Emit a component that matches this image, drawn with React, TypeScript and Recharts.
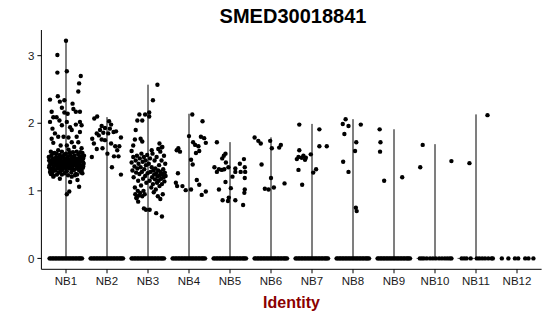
import { ScatterChart, Scatter, XAxis, YAxis } from 'recharts';

const groups = ['NB1', 'NB2', 'NB3', 'NB4', 'NB5', 'NB6', 'NB7', 'NB8', 'NB9', 'NB10', 'NB11', 'NB12'];
const yTicks = [0, 1, 2, 3];

// top of each violin (max expression in the group)
const violinMax = [3.23, 2.09, 2.57, 2.14, 1.72, 1.79, 1.99, 2.06, 1.91, 1.69, 2.13, 0];

// jitter offsets of the cells at zero
const denseZero = [-0.4, -0.37, -0.33, -0.3, -0.26, -0.23, -0.19, -0.16, -0.12, -0.09, -0.05, -0.02, 0.02, 0.05, 0.09, 0.12, 0.16, 0.19, 0.23, 0.26, 0.3, 0.33, 0.36, 0.39];
const nb10Zero = [-0.37, -0.32, -0.27, -0.2, -0.12, -0.05, 0.02, 0.1, 0.17, 0.24, 0.3, 0.36, 0.4];
const nb11Zero = [-0.35, -0.29, -0.23, -0.13, 0.02, 0.08, 0.15, 0.22, 0.3, 0.38, 0.41];
const nb12Zero = [-0.37, -0.21, -0.05, 0.03, 0.2, 0.28, 0.4];

// non-zero cells: [jitter offset, expression]
const nb1: [number, number][] = [
  [0, 3.22], [-0.21, 3.01], [-0.21, 2.75], [0.02, 2.77], [0.36, 2.7], [0.32, 2.59], [0.3, 2.47],
  [-0.39, 2.35], [-0.2, 2.4], [-0.15, 2.32], [-0.04, 2.34], [0.16, 2.29], [-0.35, 2.17], [-0.31, 2.09],
  [-0.39, 2.02], [-0.23, 2.09], [-0.1, 2.23], [-0.04, 2.16], [0.04, 2.14], [0.18, 2.21], [0.24, 2.17],
  [0.34, 2.17], [-0.16, 2.04], [-0.1, 1.97], [0.02, 2.02], [0.1, 1.94], [0.14, 1.9], [0.34, 2.02],
  [0.38, 1.97], [0.24, 1.98], [-0.33, 1.92], [-0.27, 1.85], [0.34, 1.87], [-0.19, 1.8], [-0.06, 1.8],
  [0.06, 1.79], [0.26, 1.8], [-0.35, 1.77], [-0.31, 1.71], [0.14, 1.72], [0.3, 1.72], [-0.13, 1.67],
  [0.02, 1.67], [0.2, 1.65], [0.38, 1.63],
  [-0.41, 1.45], [-0.38, 1.32], [-0.36, 1.52], [-0.35, 1.4], [-0.33, 1.27], [-0.31, 1.48], [-0.3, 1.36],
  [-0.28, 1.56], [-0.27, 1.43], [-0.26, 1.3], [-0.24, 1.5], [-0.23, 1.38], [-0.22, 1.24], [-0.2, 1.46],
  [-0.19, 1.6], [-0.18, 1.34], [-0.17, 1.41], [-0.15, 1.53], [-0.14, 1.29], [-0.13, 1.47], [-0.12, 1.37],
  [-0.1, 1.58], [-0.09, 1.44], [-0.08, 1.31], [-0.07, 1.51], [-0.05, 1.39], [-0.04, 1.26], [-0.03, 1.48],
  [-0.02, 1.35], [0, 1.55], [0.01, 1.42], [0.02, 1.29], [0.04, 1.5], [0.05, 1.37], [0.06, 1.61],
  [0.08, 1.45], [0.09, 1.33], [0.1, 1.53], [0.12, 1.4], [0.13, 1.27], [0.14, 1.49], [0.16, 1.36],
  [0.17, 1.57], [0.18, 1.44], [0.2, 1.31], [0.21, 1.52], [0.22, 1.39], [0.24, 1.25], [0.25, 1.47],
  [0.26, 1.58], [0.28, 1.35], [0.29, 1.43], [0.3, 1.54], [0.32, 1.3], [0.33, 1.46], [0.34, 1.38],
  [0.36, 1.51], [0.37, 1.27], [0.38, 1.44], [0.4, 1.56], [0.41, 1.34], [0.42, 1.48], [0.43, 1.4],
  [-0.4, 1.38], [-0.37, 1.58], [-0.34, 1.46], [-0.32, 1.34], [-0.29, 1.42], [-0.25, 1.47], [-0.21, 1.33],
  [-0.16, 1.45], [-0.11, 1.5], [-0.06, 1.43], [-0.01, 1.46], [0.03, 1.4], [0.07, 1.47], [0.11, 1.35],
  [0.15, 1.42], [0.19, 1.51], [0.23, 1.45], [0.27, 1.41], [0.31, 1.48], [0.35, 1.44], [0.39, 1.37],
  [0.44, 1.52], [-0.42, 1.5], [-0.39, 1.28], [-0.33, 1.55], [-0.27, 1.37], [-0.23, 1.55], [-0.18, 1.27],
  [-0.14, 1.39], [-0.09, 1.36], [-0.04, 1.54], [0, 1.33], [0.05, 1.44], [0.09, 1.57], [0.13, 1.46],
  [0.17, 1.32], [0.21, 1.43], [0.26, 1.33], [0.3, 1.39], [0.35, 1.57], [0.38, 1.3], [0.42, 1.42],
  [-0.41, 1.35], [-0.38, 1.42], [-0.35, 1.31], [-0.32, 1.43], [-0.29, 1.31], [-0.26, 1.4], [-0.22, 1.43],
  [-0.2, 1.36], [-0.17, 1.49], [-0.13, 1.33], [-0.11, 1.42], [-0.07, 1.39], [-0.03, 1.41], [0.02, 1.36],
  [0.04, 1.46], [0.07, 1.39], [0.11, 1.45], [0.15, 1.31], [0.18, 1.38], [0.22, 1.48], [0.25, 1.37],
  [0.28, 1.46], [0.32, 1.41], [0.36, 1.34], [0.39, 1.46], [0.42, 1.36], [-0.36, 1.44], [0.33, 1.5],
  [-0.3, 1.22], [-0.1, 1.24], [0.05, 1.23], [0.27, 1.24], [0.4, 1.26], [-0.37, 1.25],
  [0.14, 1.21], [-0.15, 1.18], [0.1, 1.13], [0.32, 1.06], [0.08, 0.99], [0.02, 0.95], [0.28, 1.16],
  [-0.31, 1.21], [0.22, 1.23],
];
const nb2: [number, number][] = [
  [-0.24, 2.1], [-0.31, 2.07], [0.05, 2.03], [0.1, 1.98], [-0.13, 1.96], [-0.05, 1.93], [-0.17, 1.9],
  [0.07, 1.92], [-0.25, 1.85], [-0.09, 1.86], [0.03, 1.85], [0.16, 1.87], [-0.36, 1.77], [-0.13, 1.76],
  [0.34, 1.79], [-0.32, 1.7], [0.1, 1.7], [0.2, 1.66], [0.3, 1.66], [-0.25, 1.62], [-0.11, 1.63],
  [0.01, 1.55], [0.17, 1.51], [0.28, 1.51], [-0.37, 1.5], [0.12, 1.35], [0.34, 1.24],
  [-0.2, 1.82], [0.22, 1.88], [0.25, 1.6], [-0.05, 1.75],
];
const nb3: [number, number][] = [
  [0.23, 2.57], [0.12, 2.34], [0.03, 2.16], [-0.07, 2.13], [-0.21, 2.13], [-0.26, 2.04], [-0.14, 2.04],
  [0.03, 2.1], [-0.3, 1.9], [-0.32, 1.76], [-0.18, 1.77], [-0.14, 1.73], [-0.36, 1.67], [-0.4, 1.59],
  [0.35, 1.65], [0.28, 1.7], [0.09, 1.6],
  [-0.4, 1.42], [-0.38, 1.3], [-0.36, 1.5], [-0.35, 1.2], [-0.33, 1.36], [-0.32, 1.05], [-0.31, 0.95],
  [-0.3, 1.45], [-0.29, 1.27], [-0.28, 0.9], [-0.27, 1.52], [-0.26, 1.33], [-0.25, 1.0], [-0.24, 1.15],
  [-0.23, 1.4], [-0.22, 0.93], [-0.21, 1.25], [-0.2, 1.48], [-0.19, 0.97], [-0.18, 1.35], [-0.17, 1.08],
  [-0.16, 1.55], [-0.15, 1.28], [-0.14, 0.92], [-0.13, 1.43], [-0.12, 1.18], [-0.11, 1.0], [-0.1, 1.5],
  [-0.09, 1.32], [-0.08, 0.95], [-0.07, 1.22], [-0.06, 1.45], [-0.05, 1.38], [-0.04, 1.12], [-0.02, 1.53],
  [-0.01, 1.26],
  [0.02, 1.4], [0.04, 1.15], [0.05, 1.48], [0.06, 1.28], [0.08, 1.05], [0.09, 1.35], [0.1, 1.2],
  [0.11, 1.55], [0.12, 1.1], [0.13, 1.3], [0.14, 0.98], [0.15, 1.24], [0.16, 1.45], [0.17, 1.17],
  [0.18, 1.33], [0.19, 1.02], [0.2, 1.26], [0.21, 1.5], [0.22, 1.12], [0.23, 1.21], [0.24, 0.92],
  [0.25, 1.3], [0.26, 1.15], [0.27, 1.38], [0.28, 1.07], [0.29, 1.23], [0.3, 0.88], [0.31, 1.28],
  [0.32, 1.18], [0.33, 1.45], [0.34, 1.1], [0.35, 1.25], [0.36, 0.95], [0.37, 1.32], [0.38, 1.2],
  [0.39, 1.52], [0.4, 1.14], [0.41, 1.27], [0.42, 1.4], [0.43, 1.22], [0.3, 1.58], [0.25, 1.62],
  [0.33, 1.64],
  [-0.1, 0.74], [-0.05, 0.72], [0.04, 0.72], [0.2, 0.67], [0.34, 0.62], [-0.24, 0.84], [-0.28, 0.89],
];
const nb4: [number, number][] = [
  [0.08, 2.13], [0.33, 2.03], [0, 1.81], [0.29, 1.8], [0.37, 1.78], [0.1, 1.72], [0.15, 1.68],
  [0.23, 1.66], [0.41, 1.71], [0.25, 1.59], [0.17, 1.56], [-0.26, 1.63], [-0.22, 1.58], [-0.3, 1.6],
  [0.05, 1.46], [0.09, 1.39], [-0.27, 1.26], [0.19, 1.16], [0.25, 1.09], [-0.32, 1.12], [-0.29, 1.07],
  [-0.16, 1.07], [-0.08, 1.01], [0.05, 1.02], [0.41, 0.99], [0.31, 0.94],
];
const nb5: [number, number][] = [
  [-0.32, 1.72], [-0.11, 1.55], [-0.15, 1.52], [-0.19, 1.48], [-0.1, 1.42], [-0.38, 1.35], [-0.32, 1.28],
  [-0.27, 1.32], [-0.2, 1.31], [-0.14, 1.32], [-0.04, 1.35], [0.13, 1.33], [0.24, 1.4], [0.34, 1.47],
  [0.36, 1.35], [0.26, 1.28], [0.37, 1.28], [0.36, 1.19], [0.13, 1.28], [0.06, 1.21], [-0.11, 1.13],
  [-0.27, 1.02], [0.02, 1.04], [0.36, 1.02], [0.35, 0.97], [-0.03, 0.9], [-0.05, 0.85], [-0.18, 0.86],
  [0.13, 0.86], [0.32, 0.79],
];
const nb6: [number, number][] = [
  [-0.4, 1.79], [-0.31, 1.74], [-0.25, 1.7], [-0.02, 1.74], [0.02, 1.63], [0.2, 1.64], [0.24, 1.68],
  [-0.23, 1.39], [0, 1.19], [0.33, 1.11], [-0.15, 1.03], [-0.06, 1.02], [0.07, 1.05],
];
const nb7: [number, number][] = [
  [-0.31, 1.98], [0.18, 1.91], [0.18, 1.66], [0.36, 1.66], [-0.31, 1.6], [-0.03, 1.54], [-0.21, 1.52],
  [-0.33, 1.5], [-0.37, 1.47], [-0.15, 1.49], [-0.17, 1.46], [-0.25, 1.49], [-0.33, 1.31], [0.1, 1.32],
  [0.03, 1.27], [-0.24, 1.09],
];
const nb8: [number, number][] = [
  [-0.18, 2.06], [-0.25, 1.99], [-0.11, 1.96], [0.19, 1.98], [-0.21, 1.84], [0.08, 1.72], [0.05, 1.59],
  [-0.24, 1.43], [-0.11, 1.28], [0.07, 0.75], [0.09, 0.7],
];
const nb9: [number, number][] = [
  [-0.35, 1.91], [-0.33, 1.72], [-0.34, 1.58], [-0.24, 1.15], [0.2, 1.2],
];
const nb10: [number, number][] = [[-0.3, 1.68], [-0.36, 1.35], [0.4, 1.44]];
const nb11: [number, number][] = [[0.28, 2.12], [-0.16, 1.41]];
const nb12: [number, number][] = [];

const expressed = [nb1, nb2, nb3, nb4, nb5, nb6, nb7, nb8, nb9, nb10, nb11, nb12];
const zeroJitter = [
  denseZero, denseZero, denseZero, denseZero, denseZero, denseZero, denseZero, denseZero, denseZero,
  nb10Zero, nb11Zero, nb12Zero,
];

const cellPoints = [
  ...zeroJitter.flatMap((offs, i) => offs.map((dx) => ({ x: i + 1 + dx, y: 0 }))),
  ...expressed.flatMap((pts, i) => pts.map(([dx, y]) => ({ x: i + 1 + dx, y }))),
];

const violins = violinMax
  .map((max, i) => ({ max, c: i + 1 }))
  .filter((v) => v.max > 0)
  .map(({ max, c }) => [
    { x: c - 0.45, y: 0 },
    { x: c, y: 0 },
    { x: c, y: max },
    { x: c, y: 0 },
    { x: c + 0.45, y: 0 },
  ]);

const font = '"Liberation Sans", Arial, sans-serif';

const Dot = (props: { cx?: number; cy?: number }) => (
  <circle cx={props.cx} cy={props.cy} r={2.2} fill="#000" />
);

export default function App() {
  return (
    <div style={{ position: 'absolute', left: 0, top: 0, width: 550, height: 316, background: '#fff', fontFamily: font }}>
      <ScatterChart width={550} height={316} margin={{ top: 30, right: 8.4, bottom: 16.7, left: 0 }}>
        <XAxis
          type="number"
          dataKey="x"
          domain={[0.4, 12.6]}
          ticks={groups.map((_, i) => i + 1)}
          tickFormatter={(v) => groups[v - 1]}
          interval={0}
          allowDataOverflow
          height={30}
          tickSize={4}
          tickMargin={4}
          stroke="#000"
          tick={{ fontSize: 11.5, fill: '#1a1a1a', fontFamily: font }}
        />
        <YAxis
          type="number"
          dataKey="y"
          domain={[-0.161, 3.38]}
          ticks={yTicks}
          allowDataOverflow
          width={41.4}
          tickSize={4}
          tickMargin={3}
          stroke="#000"
          tick={{ fontSize: 11.5, fill: '#1a1a1a', fontFamily: font }}
        />
        {violins.map((d, i) => (
          <Scatter
            key={`v${i}`}
            data={d}
            line={{ stroke: '#555', strokeWidth: 1 }}
            shape={() => <g />}
            legendType="none"
            isAnimationActive={false}
          />
        ))}
        <Scatter data={cellPoints} shape={<Dot />} isAnimationActive={false} />
        <text x={293} y={23} textAnchor="middle" fontSize={20} fontWeight="bold" fontFamily={font} fill="#000">
          SMED30018841
        </text>
        <text x={291.5} y={307.5} textAnchor="middle" fontSize={16} fontWeight="bold" fontFamily={font} fill="#8b0000">
          Identity
        </text>
      </ScatterChart>
    </div>
  );
}
